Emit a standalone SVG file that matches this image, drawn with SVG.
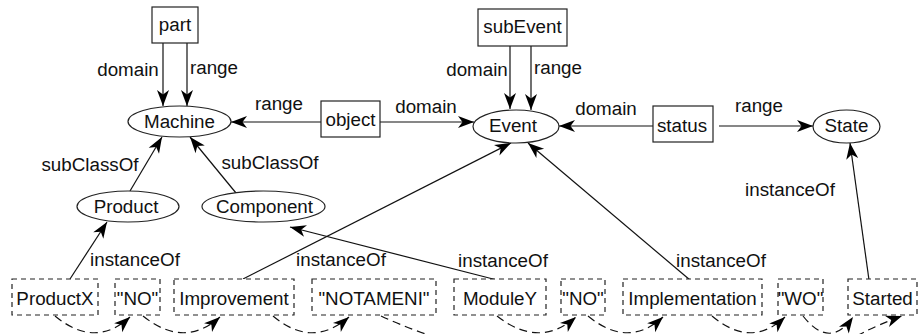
<svg xmlns="http://www.w3.org/2000/svg" width="920" height="334" viewBox="0 0 920 334">
<style>
text{font-family:"Liberation Sans",Arial,Helvetica,sans-serif;font-size:18.8px;fill:#111;text-anchor:middle}
.box{fill:#fff;stroke:#222;stroke-width:1.2}
.dbox{fill:#fff;stroke:#222;stroke-width:1.2;stroke-dasharray:5,4}
.ell{fill:#fff;stroke:#222;stroke-width:1.2}
.ln{fill:none;stroke:#111;stroke-width:1.2;marker-end:url(#ah)}
.arc{fill:none;stroke:#111;stroke-width:1.2;stroke-dasharray:8,5}
.arca{fill:none;stroke:#111;stroke-width:1.2;stroke-dasharray:8,5;marker-end:url(#ah)}
</style>
<defs>
<marker id="ah" markerUnits="userSpaceOnUse" markerWidth="18" markerHeight="14" refX="16" refY="6" orient="auto" overflow="visible">
<path d="M16,6 L0,0 L4.5,6 L0,12 Z" fill="#000" stroke="none"/>
</marker>
</defs>
<rect width="920" height="334" fill="#fff"/>
<g id="connectors">
<path class="ln" d="M163,43 L163,106"/>
<path class="ln" d="M187,43 L187,106"/>
<path class="ln" d="M321,122 L231,122"/>
<path class="ln" d="M380,122 L474,122"/>
<path class="ln" d="M510,46 L510,109"/>
<path class="ln" d="M531,46 L531,110"/>
<path class="ln" d="M653,126 L559,126"/>
<path class="ln" d="M719,126 L813,126"/>
<path class="ln" d="M130,191 L162,137"/>
<path class="ln" d="M236,193 L190,137"/>
<path class="ln" d="M70,279 L107,222"/>
<path class="ln" d="M497,280 L290,227"/>
<path class="ln" d="M243,279 L511,143"/>
<path class="ln" d="M690,280 L528,143"/>
<path class="ln" d="M869,280 L850,143"/>
<path class="arca" d="M55,316 Q95,349 130,317"/>
<path class="arca" d="M143,316 Q184,349 220,317"/>
<path class="arca" d="M273,316 Q312,349 349,317"/>
<path class="arc" d="M381,316 Q420,334 470,348"/>
<path class="arca" d="M497,316 Q539,349 576,317"/>
<path class="arca" d="M588,316 Q628,349 663,317"/>
<path class="arca" d="M712,316 Q751,349 785,317"/>
<path class="arca" d="M803,316 Q830,350 853,317"/>
<path class="arca" d="M835,350 Q858,332 902,316"/>
</g>
<g id="labels">
<text x="128" y="76">domain</text>
<text x="214" y="74">range</text>
<text x="279" y="110">range</text>
<text x="426" y="113">domain</text>
<text x="477" y="76">domain</text>
<text x="558" y="74">range</text>
<text x="606" y="115">domain</text>
<text x="759" y="112">range</text>
<text x="90" y="171">subClassOf</text>
<text x="270" y="169">subClassOf</text>
<text x="135" y="266">instanceOf</text>
<text x="341" y="266">instanceOf</text>
<text x="503" y="267">instanceOf</text>
<text x="721" y="267">instanceOf</text>
<text x="790" y="196">instanceOf</text>
</g>
<g id="part"><rect class="box" x="152" y="7" width="46" height="36"/><text x="175" y="31">part</text></g>
<g id="subEvent"><rect class="box" x="478" y="9" width="89" height="37"/><text x="522.5" y="33">subEvent</text></g>
<g id="Machine"><ellipse class="ell" cx="179.5" cy="121.5" rx="51.5" ry="15.5"/><text x="179.5" y="128">Machine</text></g>
<g id="object"><rect class="box" x="321" y="101" width="59" height="36"/><text x="350.5" y="126">object</text></g>
<g id="Event"><ellipse class="ell" cx="516" cy="126.5" rx="43" ry="16.5"/><text x="513" y="132">Event</text></g>
<g id="status"><rect class="box" x="653" y="106" width="60" height="36"/><text x="682" y="132">status</text></g>
<g id="State"><ellipse class="ell" cx="846.5" cy="126.5" rx="33.5" ry="16.5"/><text x="846.5" y="132">State</text></g>
<g id="Product"><ellipse class="ell" cx="128" cy="206.5" rx="51" ry="15.5"/><text x="126" y="213">Product</text></g>
<g id="Component"><ellipse class="ell" cx="263.5" cy="206.5" rx="61.5" ry="15.5"/><text x="264.5" y="213">Component</text></g>
<g id="ProductX"><rect class="dbox" x="12" y="279" width="86" height="36"/><text x="55" y="305">ProductX</text></g>
<g id="NO1"><rect class="dbox" x="115" y="279" width="45" height="36"/><text x="137.5" y="305">"NO"</text></g>
<g id="Improvement"><rect class="dbox" x="174" y="279" width="120" height="36"/><text x="234" y="305">Improvement</text></g>
<g id="NOTAMENI"><rect class="dbox" x="312" y="279" width="124" height="36"/><text x="374" y="305">"NOTAMENI"</text></g>
<g id="ModuleY"><rect class="dbox" x="454" y="279" width="92" height="36"/><text x="500" y="305">ModuleY</text></g>
<g id="NO2"><rect class="dbox" x="561" y="279" width="44" height="36"/><text x="583" y="305">"NO"</text></g>
<g id="Implementation"><rect class="dbox" x="623" y="279" width="139" height="36"/><text x="692.5" y="305">Implementation</text></g>
<g id="WO"><rect class="dbox" x="778" y="279" width="45" height="36"/><text x="800.5" y="305">"WO"</text></g>
<g id="Started"><rect class="dbox" x="848" y="279" width="69" height="36"/><text x="882.5" y="305">Started</text></g>
</svg>
